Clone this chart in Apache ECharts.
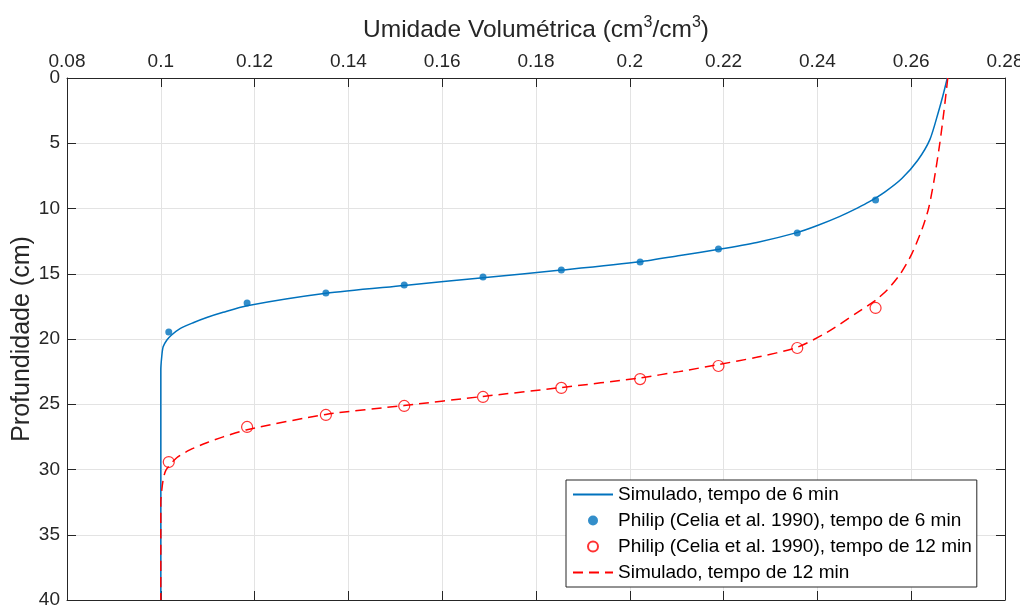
<!DOCTYPE html>
<html>
<head>
<meta charset="utf-8">
<script src="https://cdn.jsdelivr.net/npm/echarts@6/dist/echarts.min.js"></script>
<style>html,body{margin:0;padding:0;background:#fff;}#c{width:1020px;height:606px;}</style>
</head>
<body>
<div id="c"></div>
<script>
// ---- data ----
var xTicks = [0.08, 0.10, 0.12, 0.14, 0.16, 0.18, 0.20, 0.22, 0.24, 0.26, 0.28];
var yTicks = [0, 5, 10, 15, 20, 25, 30, 35, 40];

var sim6Theta = [0.2677, 0.2668, 0.2658, 0.2640, 0.2614, 0.2580, 0.2545, 0.2510, 0.2486, 0.2448, 0.2400, 0.2356, 0.2271, 0.2190, 0.2107, 0.2022, 0.1854, 0.1687, 0.1519, 0.1352, 0.1184, 0.1133, 0.1098, 0.1069, 0.1041, 0.1023, 0.1013, 0.1005, 0.1002, 0.1000, 0.1000, 0.1000];
var sim6Depth = [0, 1.3, 2.6, 4.7, 6.3, 7.7, 8.7, 9.5, 9.95, 10.6, 11.3, 11.85, 12.6, 13.13, 13.6, 14.08, 14.72, 15.3, 15.9, 16.5, 17.45, 17.95, 18.35, 18.75, 19.2, 19.69, 20.08, 20.6, 21.35, 22.4, 25, 40];

var sim12Theta = [0.2678, 0.2670, 0.2661, 0.2648, 0.2637, 0.2624, 0.2601, 0.2577, 0.2550, 0.2525, 0.2484, 0.2420, 0.2356, 0.2270, 0.2190, 0.2105, 0.2022, 0.1854, 0.1687, 0.1519, 0.1352, 0.1184, 0.1133, 0.1098, 0.1062, 0.1034, 0.1011, 0.1005, 0.1002, 0.1000, 0.1000, 0.1000];
var sim12Depth = [0, 2.5, 5.0, 8.0, 10.0, 11.5, 13.5, 15.0, 16.2, 17.0, 18.0, 19.5, 20.65, 21.4, 21.95, 22.5, 22.98, 23.72, 24.4, 25.1, 25.78, 26.95, 27.5, 27.95, 28.5, 29.1, 30.04, 30.8, 31.6, 32.5, 35, 40];

var philipTheta = [0.1017, 0.1184, 0.1352, 0.1519, 0.1687, 0.1854, 0.2022, 0.2189, 0.2357, 0.2524];
var philip6Depth = [19.46, 17.24, 16.48, 15.86, 15.25, 14.71, 14.10, 13.10, 11.88, 9.35];
var philip12Depth = [29.43, 26.74, 25.82, 25.13, 24.44, 23.75, 23.07, 22.07, 20.69, 17.62];

var names = ['Simulado, tempo de 6 min', 'Philip (Celia et al. 1990), tempo de 6 min', 'Philip (Celia et al. 1990), tempo de 12 min', 'Simulado, tempo de 12 min'];

function zip(a, b) { return a.map(function (v, i) { return [v, b[i]]; }); }

var FONT = '"Liberation Sans", Arial, Helvetica, sans-serif';
var TXT = '#262626';
var BLUE = '#0072BD';
var RED = '#FF0000';

function fmtX(v) { return String(parseFloat(v.toFixed(2))); }

var chart = echarts.init(document.getElementById('c'), null, { renderer: 'canvas' });

var commonX = {
  type: 'value', min: xTicks[0], max: xTicks[xTicks.length - 1], interval: 0.02,
  axisLine: { show: true, onZero: false, lineStyle: { color: TXT, width: 1 } },
  axisTick: { show: true, inside: true, length: 9, lineStyle: { color: TXT } }
};
var commonY = {
  type: 'value', inverse: true, min: yTicks[0], max: yTicks[yTicks.length - 1], interval: 5,
  axisLine: { show: true, onZero: false, lineStyle: { color: TXT, width: 1 } },
  axisTick: { show: true, inside: true, length: 9, lineStyle: { color: TXT } }
};

chart.setOption({
  animation: false,
  backgroundColor: '#fff',
  textStyle: { fontFamily: FONT },
  grid: { left: 67, right: 15, top: 78, bottom: 6, containLabel: false, outerBoundsMode: 'none' },
  xAxis: [
    Object.assign({}, commonX, {
      position: 'top',
      name: '{a|Umidade Volumétrica (cm}{s|3}{a|/cm}{s|3}{a|)}',
      nameLocation: 'middle', nameGap: 35, nameMoveOverlap: false,
      nameTextStyle: {
        rich: {
          a: { fontSize: 24.5, color: TXT, fontFamily: FONT, verticalAlign: 'bottom', lineHeight: 28 },
          s: { fontSize: 16, color: TXT, fontFamily: FONT, verticalAlign: 'top', lineHeight: 28, padding: [0, 0, 12, 0] }
        }
      },
      axisLabel: { show: true, margin: 7, fontSize: 19, color: TXT, fontFamily: FONT, formatter: fmtX },
      splitLine: { show: true, lineStyle: { color: '#e3e3e3', width: 1 } }
    }),
    Object.assign({}, commonX, {
      position: 'bottom',
      axisLabel: { show: false },
      splitLine: { show: false }
    })
  ],
  yAxis: [
    Object.assign({}, commonY, {
      position: 'left',
      name: 'Profundidade (cm)', nameLocation: 'middle', nameGap: 32, nameRotate: 90, nameMoveOverlap: false,
      nameTextStyle: { fontSize: 25, color: TXT, fontFamily: FONT },
      axisLabel: { show: true, margin: 7, fontSize: 19, color: TXT, fontFamily: FONT },
      splitLine: { show: true, lineStyle: { color: '#e3e3e3', width: 1 } }
    }),
    Object.assign({}, commonY, {
      position: 'right',
      axisLabel: { show: false },
      splitLine: { show: false }
    })
  ],
  legend: {
    orient: 'vertical', left: 566, top: 480,
    data: [
      { name: names[0], itemStyle: { opacity: 0 } },
      { name: names[1] },
      { name: names[2] },
      { name: names[3], itemStyle: { opacity: 0 } }
    ],
    itemWidth: 40, itemHeight: 10, itemGap: 5,
    padding: [4, 5, 4, 6],
    backgroundColor: '#fff', borderColor: TXT, borderWidth: 1, borderRadius: 0,
    textStyle: { fontSize: 19, lineHeight: 21, color: '#000', fontFamily: FONT, padding: [0, 0, 0, 0] }
  },
  series: [
    {
      name: names[0], type: 'line', data: zip(sim6Theta, sim6Depth),
      showSymbol: false, symbol: 'none', smooth: 0.25,
      lineStyle: { color: BLUE, width: 1.5 }, itemStyle: { color: BLUE }, z: 2
    },
    {
      name: names[1], type: 'scatter', data: zip(philipTheta, philip6Depth),
      symbol: 'circle', symbolSize: 7,
      itemStyle: { color: BLUE }, z: 3
    },
    {
      name: names[2], type: 'scatter', data: zip(philipTheta, philip12Depth),
      symbol: 'circle', symbolSize: 11,
      itemStyle: { color: 'rgba(255,255,255,0)', borderColor: RED, borderWidth: 1.2 }, z: 3
    },
    {
      name: names[3], type: 'line', data: zip(sim12Theta, sim12Depth),
      showSymbol: false, symbol: 'none', smooth: 0.25,
      lineStyle: { color: RED, width: 1.5, type: [10, 6] }, itemStyle: { color: RED }, z: 4
    }
  ]
});
</script>
</body>
</html>
